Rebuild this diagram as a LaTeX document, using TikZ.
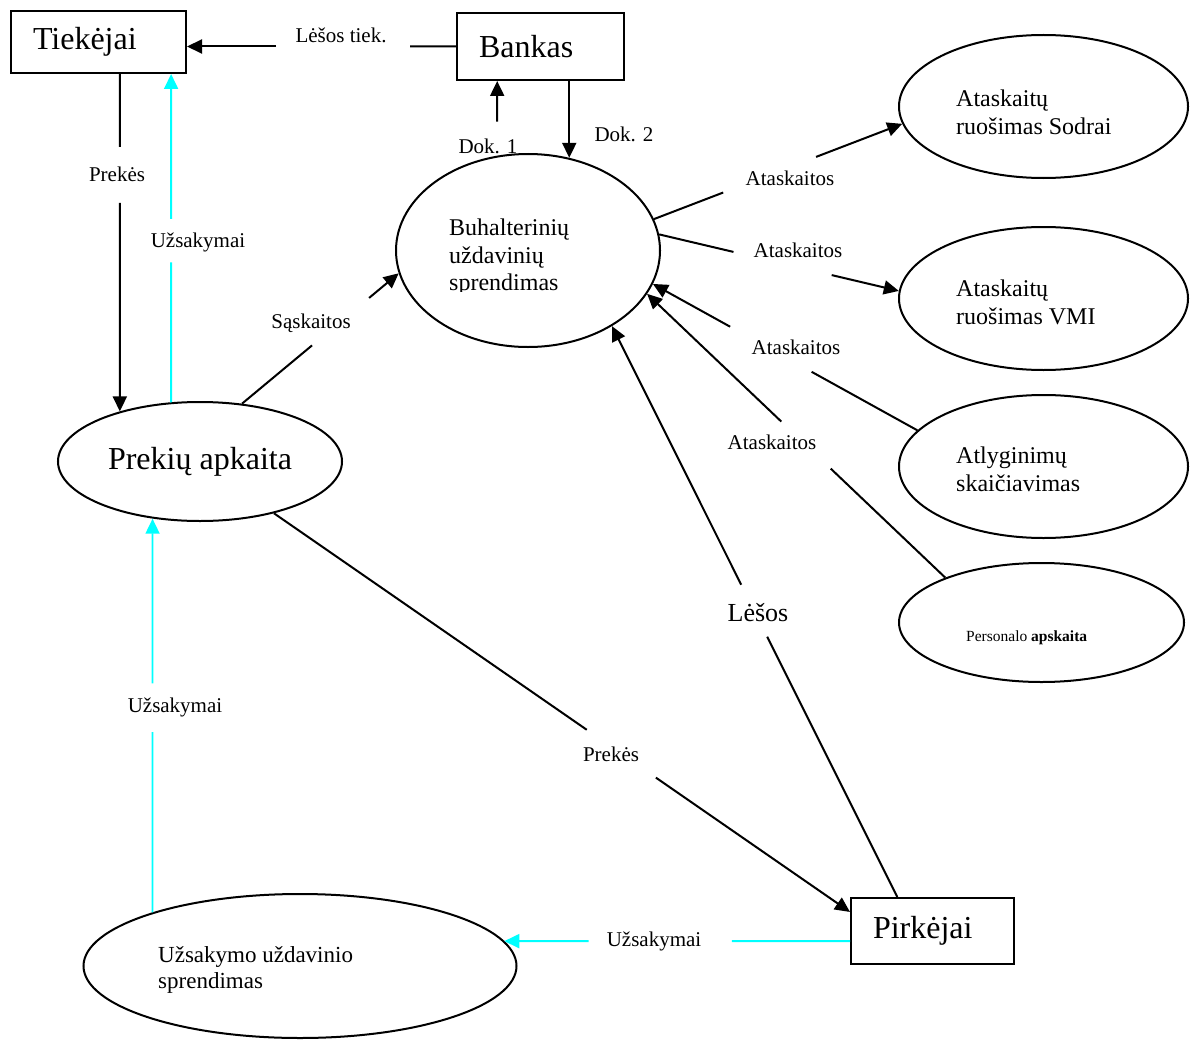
\documentclass[tikz,border=0pt]{standalone}
\usepackage{fontspec}
\setmainfont{Liberation Serif}
\usetikzlibrary{arrows.meta,shapes.geometric,calc}
\definecolor{aqua}{RGB}{0,255,255}
\tikzset{
  ln/.style={line width=2pt, draw=black},
  arr/.style={ln, -{Triangle[length=15pt,width=14pt]}},
  cln/.style={line width=1.8pt, draw=aqua},
  carr/.style={cln, -{Triangle[length=15pt,width=14pt,fill=aqua]}},
  box/.style={draw, rectangle, line width=2pt, align=left, inner xsep=22pt,
              inner ysep=0pt, font=\fontsize{32}{36}\selectfont},
  oval/.style={draw, ellipse, line width=2pt, inner sep=0pt},
  lbl/.style={inner sep=0pt, font=\fontsize{21}{24}\selectfont},
  otext/.style={inner sep=0pt, align=left, anchor=north west,
                font=\fontsize{24}{27.6}\selectfont},
}
\begin{document}
\begin{tikzpicture}[x=1pt, y=-1pt]
\useasboundingbox (0,0) rectangle (1191,1046);

% external entities
\node[box, text width=131pt, minimum height=62pt] (tiek) at (98.5,42) {Tiekėjai};
\node[box, text width=123pt, minimum height=67pt] (bank) at (540.5,46.5) {Bankas};
\node[box, text width=119pt, minimum height=66pt] (pirk) at (932.5,931) {Pirkėjai};

% processes
\node[oval, minimum width=264pt, minimum height=193pt] (buh) at (528,250.5) {};
\node[oval, minimum width=289pt, minimum height=143pt] (sodra) at (1043.5,106.5) {};
\node[oval, minimum width=289pt, minimum height=143pt] (vmi) at (1043.5,298.5) {};
\node[oval, minimum width=289pt, minimum height=143pt] (atl) at (1043.5,466.5) {};
\node[oval, minimum width=285pt, minimum height=119pt] (pers) at (1041.5,622.5) {};
\node[oval, minimum width=284pt, minimum height=119pt,
      font=\fontsize{32}{36}\selectfont] (prek) at (200,461.5) {Prekių apkaita};
\node[oval, minimum width=433pt, minimum height=144pt] (uzs) at (300,966) {};

% process texts
\begin{scope}
  \clip (380,150) rectangle (680,291);
  \node[otext] (buhtxt) at (449,218.7) {Buhalterinių\\uždavinių\\sprendimas};
\end{scope}
\node[otext] (sodratxt) at (956,89.8) {Ataskaitų\\ruošimas Sodrai};
\node[otext] (vmitxt) at (956,279.8) {Ataskaitų\\ruošimas VMI};
\node[otext] (atltxt) at (956,446.8) {Atlyginimų\\skaičiavimas};
\node[inner sep=0pt, anchor=base west, font=\fontsize{15.5}{18}\selectfont]
  (perstxt) at (966,641) {Personalo \textbf{apskaita}};
\node[otext, font=\fontsize{23}{26.4}\selectfont] (uzstxt) at (158,946.3)
  {Užsakymo uždavinio\\sprendimas};

% helper points on the vertical and horizontal flows
\coordinate (lt) at (tiek.east |- bank.west);
\coordinate (tp1) at (prek.148 |- tiek.south);
\coordinate (tp2) at (prek.116 |- tiek.south);
\coordinate (up3) at (uzs.160 |- prek.231);
\coordinate (d1) at (buh.108 |- bank.south);
\coordinate (d2) at (buh.66 |- bank.south);
\coordinate (uz4) at (uzs.7 |- pirk.187);

% Bankas -> Tiekėjai
\draw[ln] (bank.west) -- ($(bank.west)!0.171!(lt)$);
\draw[arr] ($(bank.west)!0.669!(lt)$) -- (lt);
\node[lbl] (l-lt) at (341,35) {Lėšos tiek.};

% Tiekėjai -> Prekių apkaita
\draw[ln] (tp1) -- ($(tp1)!0.216!(prek.148)$);
\draw[arr] ($(tp1)!0.382!(prek.148)$) -- (prek.148);
\node[lbl] (l-pr1) at (117,174) {Prekės};

% Prekių apkaita -> Tiekėjai (orders)
\draw[cln] (prek.116) -- ($(prek.116)!0.426!(tp2)$);
\draw[carr] ($(prek.116)!0.559!(tp2)$) -- (tp2);
\node[lbl] (l-uz1) at (198,242) {Užsakymai};

% Užsakymo uždavinio sprendimas -> Prekių apkaita
\draw[cln] (uzs.160) -- ($(uzs.160)!0.458!(up3)$);
\draw[carr] ($(uzs.160)!0.582!(up3)$) -- (up3);
\node[lbl] (l-uz2) at (175,707) {Užsakymai};

% Pirkėjai -> Užsakymo uždavinio sprendimas
\draw[cln] (pirk.187) -- ($(pirk.187)!0.342!(uz4)$);
\draw[carr] ($(pirk.187)!0.756!(uz4)$) -- (uz4);
\node[lbl] (l-uz3) at (654,941) {Užsakymai};

% Prekių apkaita -> Buhalterinių uždavinių sprendimas
\draw[ln] (prek.54) -- ($(prek.54)!0.447!(buh.190)$);
\draw[arr] ($(prek.54)!0.811!(buh.190)$) -- (buh.190);
\node[lbl] (l-sask) at (311,323) {Sąskaitos};

% Buhalterinių uždavinių sprendimas <-> Bankas
\draw[arr] ($(buh.108)!0.457!(d1)$) -- (d1);
\node[lbl] (l-d1) at (488,146) {Dok. 1};
\draw[arr] (d2) -- (buh.66);
\node[lbl] (l-d2) at (624,134) {Dok. 2};

% reports
\draw[ln] (buh.14) -- ($(buh.14)!0.279!(sodra.187.5)$);
\draw[arr] ($(buh.14)!0.653!(sodra.187.5)$) -- (sodra.187.5);
\node[lbl] (l-at1) at (790,178) {Ataskaitos};

\draw[ln] (buh.7) -- ($(buh.7)!0.31!(vmi.177)$);
\draw[arr] ($(buh.7)!0.72!(vmi.177)$) -- (vmi.177);
\node[lbl] (l-at2) at (798,250) {Ataskaitos};

\draw[ln] (atl.164) -- ($(atl.164)!0.40!(buh.-15)$);
\draw[arr] ($(atl.164)!0.708!(buh.-15)$) -- (buh.-15);
\node[lbl] (l-at3) at (796,347) {Ataskaitos};

\draw[ln] (pers.155) -- ($(pers.155)!0.384!(buh.-20)$);
\draw[arr] ($(pers.155)!0.55!(buh.-20)$) -- (buh.-20);
\node[lbl] (l-at4) at (772,442) {Ataskaitos};

% Pirkėjai -> Buhalterinių uždavinių sprendimas
\draw[ln] (pirk.136) -- ($(pirk.136)!0.456!(buh.-42)$);
\draw[arr] ($(pirk.136)!0.547!(buh.-42)$) -- (buh.-42);
\node[lbl, font=\fontsize{26}{30}\selectfont] (l-les) at (758,613) {Lėšos};

% Prekių apkaita -> Pirkėjai
\draw[ln] (prek.-35) -- ($(prek.-35)!0.543!(pirk.167)$);
\draw[arr] ($(prek.-35)!0.663!(pirk.167)$) -- (pirk.167);
\node[lbl] (l-pr2) at (611,754) {Prekės};
\end{tikzpicture}
\end{document}
